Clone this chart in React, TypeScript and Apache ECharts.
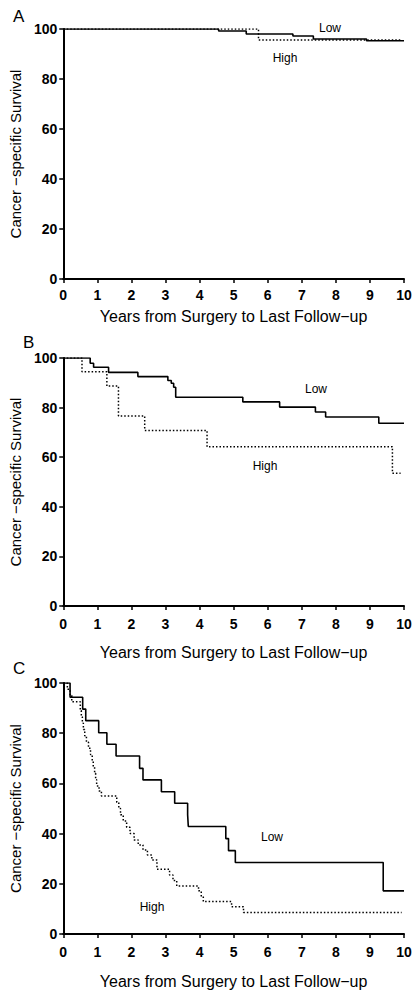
import React, { useEffect, useRef } from "react";
import * as echarts from "echarts";

// Panel A
const aLowT = [0, 4.56, 5.37, 6.74, 7.34, 8.9, 10];
const aLowS = [100, 99.2, 98, 97.2, 96, 95.3, 95.3];
const aHighT = [0, 5.73, 9.93];
const aHighS = [100, 95.6, 95.6];

// Panel B
const bLowT = [0, 0.79, 0.89, 1.33, 2.19, 3.07, 3.17, 3.24, 3.3, 5.27, 6.35, 7.4, 7.7, 9.26, 10];
const bLowS = [100, 97.9, 96.3, 94.2, 92.5, 90.9, 89.8, 88.2, 84.2, 82.3, 80.2, 78.2, 76.2, 73.7, 73.7];
const bHighT = [0, 0.55, 1.28, 1.62, 2.39, 4.22, 9.66, 9.9];
const bHighS = [100, 94.5, 88.7, 76.6, 70.8, 64.2, 53.5, 53.5];

// Panel C
const cLowT = [0, 0.2, 0.57, 0.66, 1.04, 1.28, 1.55, 2.24, 2.34, 2.88, 3.27, 3.65, 3.67, 4.77, 4.85, 5.05, 9.39, 10];
const cLowS = [100, 94.3, 89.6, 85.0, 80.2, 75.6, 70.9, 66.0, 61.4, 56.7, 52.1, 47.5, 42.8, 38.0, 33.2, 28.5, 17.2, 17.2];
const cHighT = [0, 0.12, 0.2, 0.25, 0.5, 0.53, 0.56, 0.59, 0.63, 0.68, 0.74, 0.8, 0.85, 0.88, 0.92, 0.95, 0.98, 1.05, 1.12,
  1.57, 1.63, 1.68, 1.76, 1.86, 1.96, 2.08, 2.2, 2.34, 2.47, 2.6, 2.75, 3.12, 3.22, 3.33, 3.97, 4.05, 4.11, 4.94, 5.29, 9.93];
const cHighS = [100, 97.5, 95, 92.5, 89, 86.5, 84, 81.5, 79, 76.5, 74, 71.5, 69, 66.5, 64, 61.5, 59, 57, 55,
  52.5, 50, 47.5, 45, 42.5, 40, 37.5, 35.5, 33.5, 31.5, 29.5, 25.8, 23.5, 21.3, 19.1, 17.2, 15, 12.9, 10.9, 8.6, 8.6];

const xTicks = [0, 1, 2, 3, 4, 5, 6, 7, 8, 9, 10];
const yTicks = [0, 20, 40, 60, 80, 100];
const panelLetters = ["A", "B", "C"];
const groupNames = ["Low", "High"];
const xTitle = "Years from Surgery to Last Follow\u2212up";
const yTitle = "Cancer \u2212specific Survival";

const FONT = "'Liberation Sans', Arial, Helvetica, sans-serif";

const zip = (t: number[], s: number[]) => t.map((v, i) => [v, s[i]]);

export default function App() {
  const ref = useRef<HTMLDivElement>(null);
  useEffect(() => {
    if (!ref.current) return;
    const chart = echarts.init(ref.current, undefined, { renderer: "svg" });
    const grids = [
      { left: 63, top: 29, width: 341, height: 250 },
      { left: 63, top: 358, width: 341, height: 248 },
      { left: 63, top: 683, width: 341, height: 251 },
    ];
    const xNameGaps = [26, 35, 36];
    const xLabelMargins = [6, 8, 8];
    const panels = [
      { low: zip(aLowT, aLowS), high: zip(aHighT, aHighS) },
      { low: zip(bLowT, bLowS), high: zip(bHighT, bHighS) },
      { low: zip(cLowT, cLowS), high: zip(cHighT, cHighS) },
    ];
    const axisLine = { show: true, lineStyle: { color: "#000", width: 2 } };
    const axisTick = { show: true, inside: false, length: 4, lineStyle: { color: "#000", width: 1.5 } };
    const xAxis = grids.map((_, i) => ({
      type: "value",
      gridIndex: i,
      min: xTicks[0],
      max: xTicks[xTicks.length - 1],
      interval: 1,
      offset: 3,
      axisLine,
      axisTick,
      splitLine: { show: false },
      axisLabel: { color: "#000", fontSize: 14, fontWeight: "bold", fontFamily: FONT, margin: xLabelMargins[i] },
      name: xTitle,
      nameLocation: "middle",
      nameGap: xNameGaps[i],
      nameTextStyle: { color: "#000", fontSize: 16, fontFamily: FONT, verticalAlign: "top" },
    }));
    const yAxis = grids.map((_, i) => ({
      type: "value",
      gridIndex: i,
      min: yTicks[0],
      max: yTicks[yTicks.length - 1],
      interval: 20,
      axisLine,
      axisTick,
      splitLine: { show: false },
      axisLabel: { color: "#000", fontSize: 14, fontWeight: "bold", fontFamily: FONT, margin: 6 },
      name: yTitle,
      nameLocation: "middle",
      nameGap: 36,
      nameTextStyle: { color: "#000", fontSize: 15, fontFamily: FONT },
    }));
    const series: any[] = [];
    panels.forEach((p, i) => {
      series.push({
        type: "line",
        name: groupNames[0],
        xAxisIndex: i,
        yAxisIndex: i,
        step: "end",
        showSymbol: false,
        symbol: "none",
        data: p.low,
        lineStyle: { color: "#000", width: 1.6 },
      });
      series.push({
        type: "line",
        name: groupNames[1],
        xAxisIndex: i,
        yAxisIndex: i,
        step: "end",
        showSymbol: false,
        symbol: "none",
        data: p.high,
        lineStyle: { color: "#000", width: 1.5, type: [1.5, 2] },
      });
    });
    const letterPos = [
      [13, 16],
      [23, 342],
      [13, 668],
    ];
    const labelPos = [
      [
        [330, 28],
        [285, 58],
      ],
      [
        [316, 389],
        [265, 466],
      ],
      [
        [272, 837],
        [152, 907],
      ],
    ];
    const graphic: any[] = [];
    panelLetters.forEach((L, i) => {
      graphic.push({
        type: "text",
        x: letterPos[i][0],
        y: letterPos[i][1],
        style: { text: L, fontSize: 17, fontFamily: FONT, fill: "#000", verticalAlign: "middle" },
      });
      groupNames.forEach((g, j) => {
        graphic.push({
          type: "text",
          x: labelPos[i][j][0],
          y: labelPos[i][j][1],
          style: {
            text: g,
            fontSize: 12,
            fontFamily: FONT,
            fill: "#000",
            align: "center",
            verticalAlign: "middle",
          },
        });
      });
    });
    chart.setOption({
      animation: false,
      backgroundColor: "#fff",
      grid: grids,
      xAxis,
      yAxis,
      series,
      graphic,
    } as any);
    return () => chart.dispose();
  }, []);
  return (
    <div
      ref={ref}
      style={{ position: "absolute", left: 0, top: 0, width: 420, height: 998, background: "#fff" }}
    />
  );
}
